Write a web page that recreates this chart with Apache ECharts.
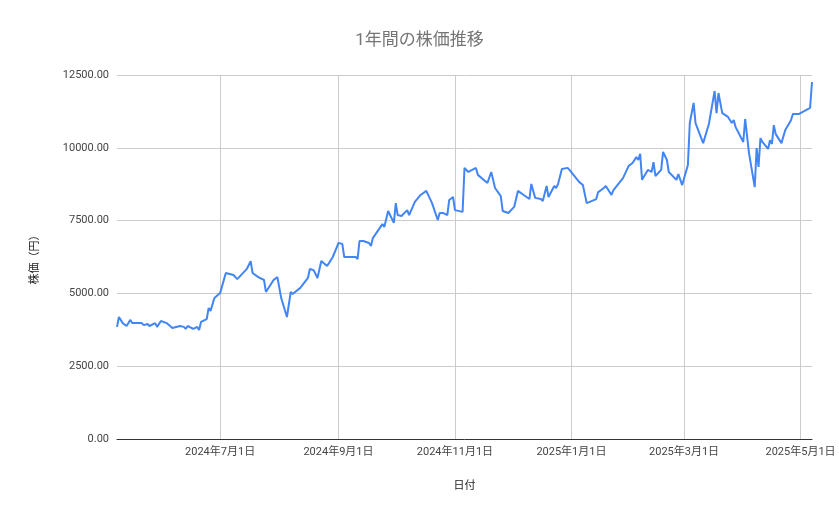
<!DOCTYPE html>
<html><head><meta charset="utf-8">
<script src="https://cdn.jsdelivr.net/npm/echarts@6/dist/echarts.min.js"></script>
<style>html,body{margin:0;padding:0;background:#fff}#c{width:839px;height:519px}</style>
</head><body><div id="c"></div>
<script>
// days since 2024-05-08
const startDate = '2024-05-08';
const days = [0,1,3,5,7,8,13,14,16,17,20,21,22,23,26,29,33,35,36,37,40,42,43,44,47,48,49,51,54,57,61,63,68,70,71,74,77,78,82,84,86,89,91,92,96,100,101,103,105,107,110,111,113,116,118,119,125,126,127,129,132,133,134,139,140,142,145,146,147,149,152,153,156,159,162,165,168,169,171,173,174,176,177,181,182,183,184,188,189,190,194,195,196,198,201,202,205,208,210,211,213,216,217,218,219,222,223,225,226,229,230,231,233,236,237,242,244,246,251,252,255,256,259,260,265,266,268,270,272,273,274,275,278,280,281,282,285,286,288,289,293,294,296,299,300,302,303,307,310,313,314,315,317,320,322,323,324,328,329,331,334,335,336,337,338,341,342,343,344,345,348,349,350,351,353,354,357,363,364];
const prices = [3850,4190,3980,3880,4090,3980,3980,3910,3950,3880,3980,3850,3850,4050,3980,3810,3880,3850,3780,3880,3780,3850,3740,4020,4120,4500,4400,4840,5010,5700,5630,5490,5840,6110,5700,5560,5460,5050,5460,5560,4840,4190,5050,4980,5190,5530,5840,5800,5530,6110,5940,6040,6250,6730,6700,6250,6250,6180,6800,6800,6730,6630,6900,7380,7280,7830,7420,8100,7690,7660,7860,7690,8140,8380,8520,8100,7520,7760,7760,7690,8210,8310,7860,7800,9310,9310,9170,9310,9070,9100,8790,8790,9170,8620,8340,7830,7760,7970,8520,8550,8380,8240,8760,8760,8280,8240,8170,8690,8310,8690,8620,8760,9270,9310,9240,8830,8720,8100,8240,8480,8620,8690,8380,8550,8960,8900,9380,9480,9680,9580,9790,8900,9240,9170,9510,9030,9240,9860,9580,9170,8900,9100,8720,9410,10850,11540,10850,10160,10820,11950,11190,11880,11190,11060,10850,10950,10710,10200,10990,9820,8650,9990,9340,10330,10200,9960,10260,10130,10780,10470,10160,10160,10610,10610,10950,11160,11160,11370,12260];
const tickDates = ['2024-07-01','2024-09-01','2024-11-01','2025-01-01','2025-03-01','2025-05-01'];
const yTicks = [0,2500,5000,7500,10000,12500];

const DAY = 86400000;
const t0 = Date.UTC(2024,4,8);
const data = days.map((d,i)=>[t0 + d*DAY, prices[i]]);
const tickTs = tickDates.map(s=>{const p=s.split('-');return Date.UTC(+p[0],+p[1]-1,+p[2]);});
const font = 'Roboto, "Noto Sans CJK JP"';

const chart = echarts.init(document.getElementById('c'));
chart.setOption({
  animation:false,
  title:{text:'1年間の株価推移',left:'center',top:27,textStyle:{color:'#757575',fontSize:17,fontWeight:'normal',fontFamily:font}},
  grid:{left:117,right:27,top:75,bottom:80},
  xAxis:{type:'value',min:t0,max:t0+364*DAY,
    name:'日付',nameLocation:'middle',nameGap:42,nameTextStyle:{color:'#222',fontSize:11,fontFamily:font},
    axisLine:{lineStyle:{color:'#333'}},
    axisTick:{show:false,customValues:tickTs},
    axisLabel:{customValues:tickTs,color:'#444',fontSize:11,fontFamily:font,
      formatter:v=>{const d=new Date(v);return d.getUTCFullYear()+'年'+(d.getUTCMonth()+1)+'月'+d.getUTCDate()+'日';}},
    splitLine:{show:true,lineStyle:{color:'#cccccc'}}
  },
  yAxis:{type:'value',min:yTicks[0],max:yTicks[yTicks.length-1],interval:2500,
    name:'株価（円）',nameLocation:'middle',nameGap:76,nameTextStyle:{color:'#222',fontSize:11,fontFamily:font},
    axisLine:{show:false},axisTick:{show:false},
    axisLabel:{color:'#444',fontSize:11,fontFamily:'Roboto',formatter:v=>v.toFixed(2)},
    splitLine:{lineStyle:{color:'#cccccc'}}
  },
  series:[{type:'line',data:data,showSymbol:false,lineStyle:{color:'#4285F4',width:2},itemStyle:{color:'#4285F4'}}]
});
</script></body></html>
